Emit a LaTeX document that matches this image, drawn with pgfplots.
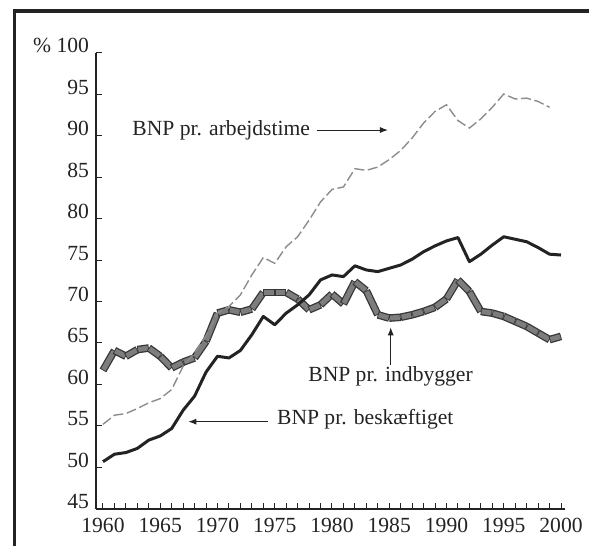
\documentclass[border=0pt]{standalone}
\usepackage{pgfplots}
\pgfplotsset{compat=1.18}
\usepackage{pgfplotstable}
\usepackage{fontspec}
\setmainfont{Liberation Serif}
\usetikzlibrary{arrows.meta, decorations.pathreplacing}

\definecolor{ink}{RGB}{35,35,35}
\definecolor{dashgray}{RGB}{140,140,140}
\definecolor{segfill}{RGB}{125,125,125}
\definecolor{segdark}{RGB}{55,55,55}

\pgfplotstableread{
year besk indb arb
1960 50.7 61.7 55.2
1961 51.6 64.1 56.3
1962 51.8 63.4 56.5
1963 52.3 64.2 57.1
1964 53.3 64.4 57.8
1965 53.8 63.4 58.3
1966 54.7 62.0 59.4
1967 56.9 62.7 62.2
1968 58.6 63.2 63.8
1969 61.5 65.2 65.9
1970 63.4 68.6 68.6
1971 63.2 69.0 69.4
1972 64.1 68.7 70.8
1973 66.0 69.1 73.2
1974 68.2 71.1 75.3
1975 67.2 71.1 74.6
1976 68.6 71.1 76.6
1977 69.6 70.3 77.8
1978 70.8 69.0 79.8
1979 72.6 69.6 82.0
1980 73.2 70.9 83.5
1981 73.0 69.7 83.8
1982 74.3 72.4 86.0
1983 73.8 71.3 85.8
1984 73.6 68.4 86.2
1985 74.0 68.0 87.1
1986 74.4 68.1 88.2
1987 75.1 68.4 89.7
1988 76.0 68.8 91.5
1989 76.7 69.3 92.9
1990 77.3 70.3 93.7
1991 77.7 72.6 91.8
1992 74.8 71.2 90.9
1993 75.7 68.8 92.0
1994 76.8 68.6 93.4
1995 77.8 68.2 95.0
1996 77.5 67.6 94.4
1997 77.2 67.0 94.5
1998 76.5 66.2 94.1
1999 75.7 65.4 93.4
2000 75.6 65.8 nan
}\data

\tikzset{segline/.style={decorate, decoration={show path construction,
  lineto code={
    \draw[line width=3.8pt, color=segdark, line cap=butt] (\tikzinputsegmentfirst) -- (\tikzinputsegmentlast);
    \draw[line width=2.5pt, color=segfill, line cap=butt, shorten <=0.45pt, shorten >=0.45pt] (\tikzinputsegmentfirst) -- (\tikzinputsegmentlast);
  }}}}

\begin{document}
\begin{tikzpicture}
\useasboundingbox (0,0) rectangle (294.5pt,273pt);
\draw[line width=1.6pt, ink, line join=miter] (7.15pt,-3pt) -- (7.15pt,267.5pt) -- (298pt,267.5pt);
\begin{axis}[
  at={(48pt,18.5pt)}, anchor=south west,
  scale only axis, width=234.5pt, height=228.25pt,
  xmin=1959.389, xmax=2000.35, ymin=45, ymax=100,
  axis lines=left,
  axis line style={-, line width=0.6pt, ink},
  clip=false,
  tick align=inside,
  major tick length=3pt, minor tick length=3pt,
  every tick/.style={ink, line width=0.5pt},
  xtick={1960,1965,...,2000},
  xticklabels={1960,1965,1970,1975,1980,1985,1990,1995,2000},
  minor x tick num=4,
  ytick={45,50,...,100},
  yticklabels={45,50,55,60,65,70,75,80,85,90,95,{\% 100}},
  ticklabel style={font=\fontsize{10.8}{12}\selectfont, text=ink},
  yticklabel style={anchor=base east},
  xticklabel style={yshift=-1pt},
]
\addplot[segline] table[x=year, y=indb] {\data};
\addplot[dashgray, line width=0.7pt, dash pattern=on 5pt off 1.8pt] table[x=year, y=arb] {\data};
\addplot[ink, line width=1.5pt, line join=round] table[x=year, y=besk] {\data};

\node[anchor=base west, inner sep=0, text=ink, font=\fontsize{10.8}{12}\selectfont] at (axis cs:1962.53,89.94) {BNP pr. arbejdstime};
\draw[ink, line width=0.5pt, -{Latex[length=4pt,width=3pt]}] (axis cs:1978.65,90.66) -- (axis cs:1984.89,90.66);

\node[anchor=base west, inner sep=0, text=ink, font=\fontsize{10.8}{12}\selectfont] at (axis cs:1977.90,60.42) {BNP pr. indbygger};
\draw[ink, line width=0.5pt, -{Latex[length=4pt,width=3pt]}] (axis cs:1985.13,62.35) -- (axis cs:1985.13,66.89);

\node[anchor=base west, inner sep=0, text=ink, font=\fontsize{10.8}{12}\selectfont] at (axis cs:1975.17,55.20) {BNP pr. beskæftiget};
\draw[ink, line width=0.5pt, -{Latex[length=4pt,width=3pt]}] (axis cs:1974.44,55.52) -- (axis cs:1967.45,55.52);
\end{axis}
\end{tikzpicture}
\end{document}
